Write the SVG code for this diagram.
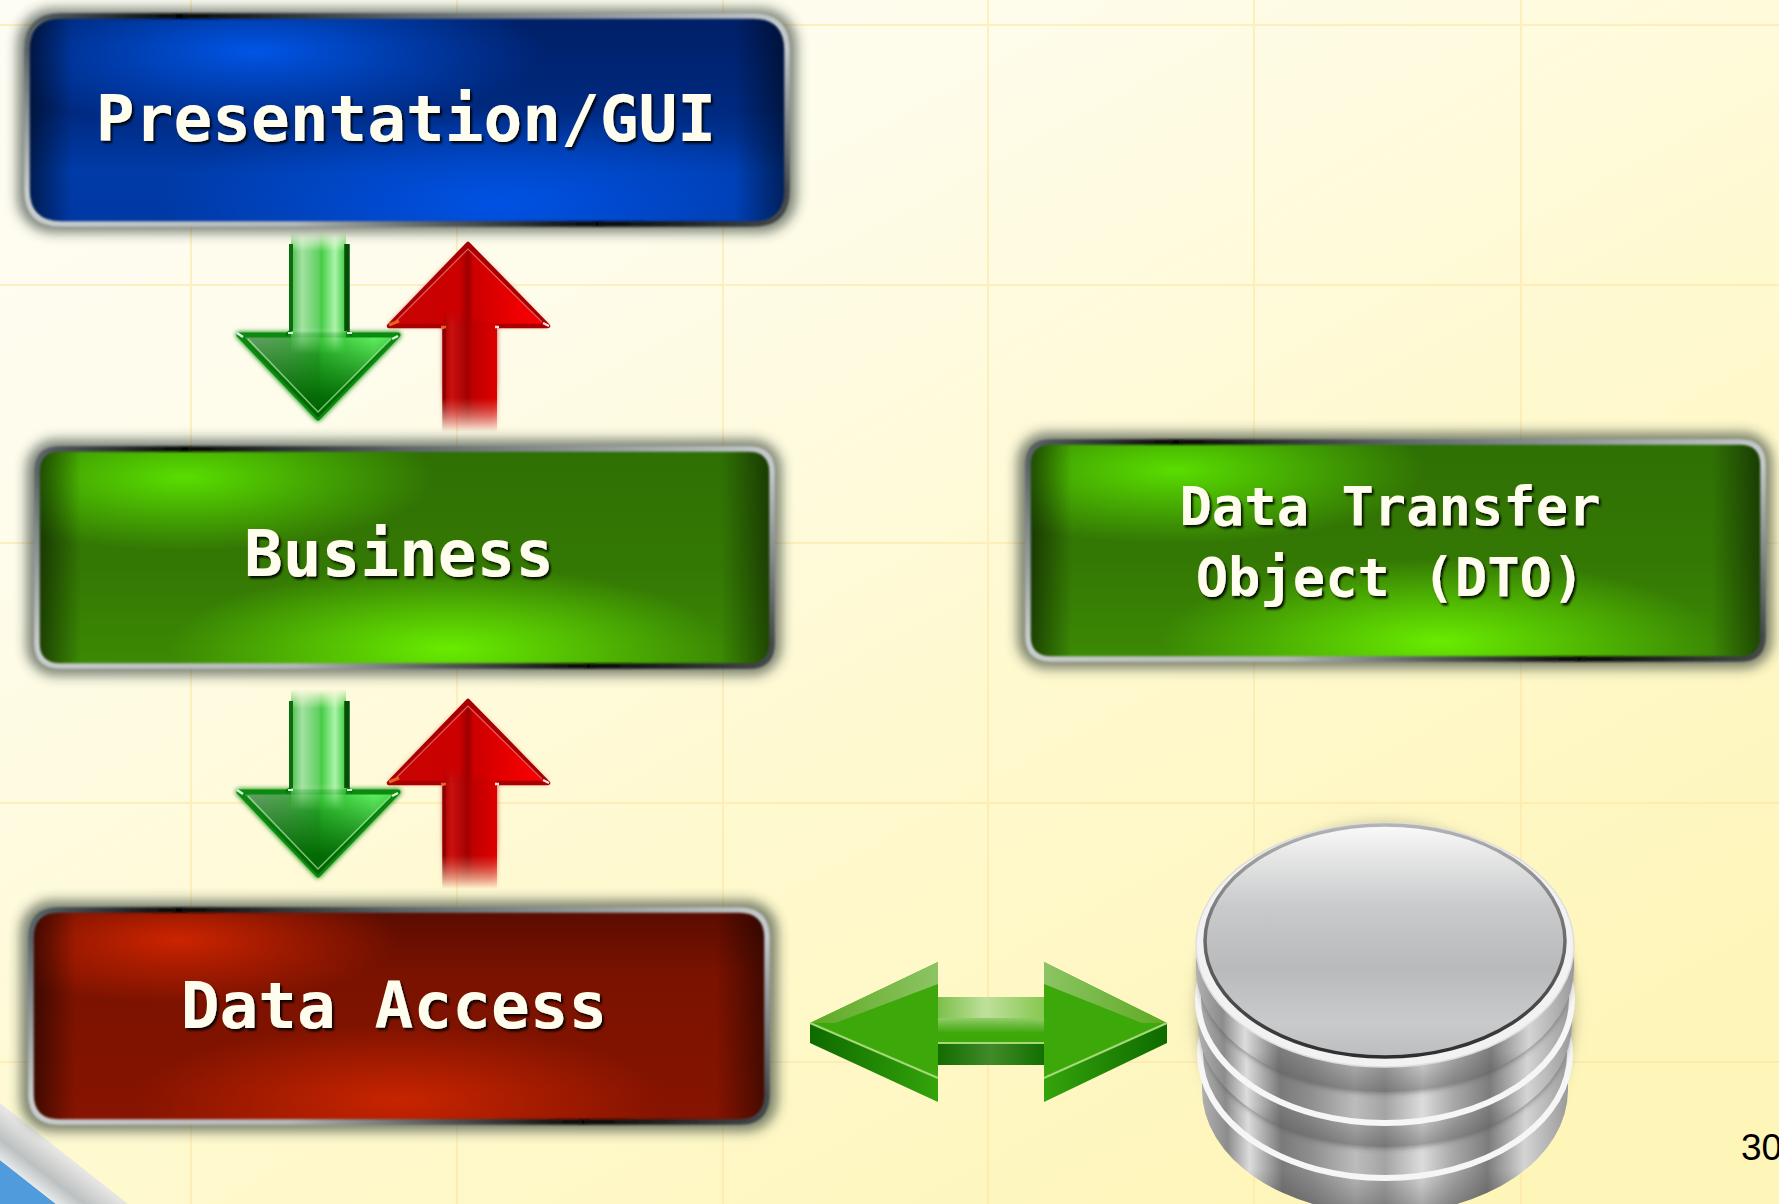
<svg xmlns="http://www.w3.org/2000/svg" width="1779" height="1204" viewBox="0 0 1779 1204">
<style>
.grid{stroke:#fde6a4;stroke-width:2;stroke-opacity:.6;fill:none}
.shadow{fill:#2e3a30;fill-opacity:.6;filter:url(#soft)}
.rim{filter:url(#rimblur);fill:none;stroke-width:5.5}
.rimT{stroke:url(#rimTop)}
.rimB{stroke:url(#rimBottom)}
.rimL{stroke:url(#rimLeft)}
.rimR{stroke:url(#rimRight)}
.lab{font-family:"DejaVu Sans Mono","Liberation Mono",monospace;font-weight:700;fill:#fffdee;text-anchor:middle;filter:url(#txt)}
.lg{font-size:64.4px}
.md{font-size:53.8px}
.vig{fill:url(#vignette)}
</style>
<defs>
<linearGradient id="bg" x1="0" y1="0" x2=".8" y2="1">
<stop offset="0" stop-color="#fefdf4"/><stop offset=".3" stop-color="#fefcea"/><stop offset=".62" stop-color="#fff9cf"/><stop offset="1" stop-color="#fef5b8"/>
</linearGradient>
<filter id="soft" x="-10%" y="-20%" width="120%" height="140%"><feGaussianBlur stdDeviation="6"/></filter>
<filter id="soft2" x="-20%" y="-20%" width="140%" height="140%"><feGaussianBlur stdDeviation="2.5"/></filter>
<filter id="rimblur" x="-5%" y="-5%" width="110%" height="110%" filterUnits="userSpaceOnUse"><feGaussianBlur stdDeviation=".8"/></filter>
<filter id="txt" x="-5%" y="-10%" width="110%" height="125%"><feDropShadow dx="2" dy="2.5" stdDeviation="1" flood-color="#000" flood-opacity=".9"/></filter>
<linearGradient id="rimTop" x1="0" y1="0" x2="1" y2="0">
<stop offset="0" stop-color="#5a6468"/><stop offset=".2" stop-color="#050505"/><stop offset=".5" stop-color="#5d666a"/><stop offset=".85" stop-color="#a6adb0"/><stop offset="1" stop-color="#c4c9cb"/>
</linearGradient>
<linearGradient id="rimBottom" x1="0" y1="0" x2="1" y2="0">
<stop offset="0" stop-color="#c8cccd"/><stop offset=".35" stop-color="#b4b8b9"/><stop offset=".55" stop-color="#55595b"/><stop offset=".75" stop-color="#060606"/><stop offset="1" stop-color="#44484a"/>
</linearGradient>
<linearGradient id="rimLeft" x1="0" y1="0" x2="0" y2="1"><stop offset="0" stop-color="#5a6468"/><stop offset="1" stop-color="#c8cccd"/></linearGradient>
<linearGradient id="rimRight" x1="0" y1="0" x2="0" y2="1"><stop offset="0" stop-color="#c4c9cb"/><stop offset="1" stop-color="#44484a"/></linearGradient>
<linearGradient id="vignette" x1="0" y1="0" x2="1" y2="0">
<stop offset="0" stop-color="#000" stop-opacity=".55"/><stop offset=".06" stop-color="#000" stop-opacity="0"/><stop offset=".93" stop-color="#000" stop-opacity="0"/><stop offset="1" stop-color="#000" stop-opacity=".5"/>
</linearGradient>
<linearGradient id="bBase" x1="0" y1="0" x2="0" y2="1"><stop offset="0" stop-color="#001f66"/><stop offset=".45" stop-color="#00297f"/><stop offset=".75" stop-color="#003ba8"/><stop offset="1" stop-color="#0038a4"/></linearGradient>
<radialGradient id="bTop" cx=".3" cy=".17" r=".38"><stop offset="0" stop-color="#0055e6"/><stop offset="1" stop-color="#0055e6" stop-opacity="0"/></radialGradient>
<radialGradient id="bBot" cx=".62" cy=".9" r=".45"><stop offset="0" stop-color="#0052e4"/><stop offset="1" stop-color="#0052e4" stop-opacity="0"/></radialGradient>
<linearGradient id="gBase" x1="0" y1="0" x2="0" y2="1"><stop offset="0" stop-color="#2f7004"/><stop offset=".55" stop-color="#347804"/><stop offset="1" stop-color="#3c8a04"/></linearGradient>
<radialGradient id="gTop" cx=".2" cy=".13" r=".34"><stop offset="0" stop-color="#59de00"/><stop offset="1" stop-color="#59de00" stop-opacity="0"/></radialGradient>
<radialGradient id="gBot" cx=".56" cy=".92" r=".38"><stop offset="0" stop-color="#68ec00"/><stop offset="1" stop-color="#68ec00" stop-opacity="0"/></radialGradient>
<linearGradient id="rBase" x1="0" y1="0" x2="0" y2="1"><stop offset="0" stop-color="#5a0c00"/><stop offset=".3" stop-color="#7a1200"/><stop offset="1" stop-color="#861400"/></linearGradient>
<radialGradient id="rTop" cx=".2" cy=".14" r=".3"><stop offset="0" stop-color="#cc2400"/><stop offset="1" stop-color="#cc2400" stop-opacity="0"/></radialGradient>
<radialGradient id="rBot" cx=".5" cy=".9" r=".36"><stop offset="0" stop-color="#c82400"/><stop offset="1" stop-color="#c82400" stop-opacity="0"/></radialGradient>
<linearGradient id="fadeGreen" x1="0" y1="0" x2="0" y2="1"><stop offset="0" stop-color="#000"/><stop offset=".16" stop-color="#fff"/><stop offset=".78" stop-color="#fff"/><stop offset="1" stop-color="#000"/></linearGradient>
<linearGradient id="fadeRed" x1="0" y1="0" x2="0" y2="1"><stop offset="0" stop-color="#000"/><stop offset=".14" stop-color="#fff"/><stop offset=".72" stop-color="#fff"/><stop offset="1" stop-color="#000"/></linearGradient>
<mask id="maskGreen" maskContentUnits="objectBoundingBox" x="-.2" y="0" width="1.4" height="1"><rect x="-.2" y="0" width="1.4" height="1" fill="url(#fadeGreen)"/></mask>
<mask id="maskRed" maskContentUnits="objectBoundingBox" x="-.3" y="0" width="1.6" height="1"><rect x="-.3" y="0" width="1.6" height="1" fill="url(#fadeRed)"/></mask>
<linearGradient id="gS" x1="0" y1="0" x2="1" y2="0"><stop offset="0" stop-color="#49bd49"/><stop offset=".2" stop-color="#a2e2a2"/><stop offset=".5" stop-color="#62d062"/><stop offset=".55" stop-color="#45cc45"/><stop offset=".8" stop-color="#acf4ac"/><stop offset="1" stop-color="#38c838"/></linearGradient>
<linearGradient id="gH" x1="0" y1="0" x2="1" y2="0"><stop offset="0" stop-color="#6f9a6f"/><stop offset=".3" stop-color="#4ea84e"/><stop offset=".5" stop-color="#2fb02f"/><stop offset=".52" stop-color="#33c433"/><stop offset=".85" stop-color="#62f262"/><stop offset="1" stop-color="#48dc48"/></linearGradient>
<linearGradient id="gHV" x1="0" y1="0" x2="0" y2="1"><stop offset="0" stop-color="#006000" stop-opacity="0"/><stop offset=".75" stop-color="#006400" stop-opacity=".9"/><stop offset="1" stop-color="#006000"/></linearGradient>
<linearGradient id="rH" x1="0" y1="0" x2="1" y2="0"><stop offset="0" stop-color="#c80404"/><stop offset=".44" stop-color="#cc0000"/><stop offset=".5" stop-color="#9c0000"/><stop offset=".53" stop-color="#cc0000"/><stop offset=".78" stop-color="#ea0000"/><stop offset="1" stop-color="#ff0008"/></linearGradient>
<linearGradient id="rS" x1="0" y1="0" x2="1" y2="0"><stop offset="0" stop-color="#a80404"/><stop offset=".14" stop-color="#cc1010"/><stop offset=".45" stop-color="#a20000"/><stop offset=".55" stop-color="#c00000"/><stop offset="1" stop-color="#de0000"/></linearGradient>
<g id="pair">
<polygon points="239,335 398,335 318,418" fill="#0a8a0e" fill-opacity=".55" stroke="#0a8a0e" stroke-width="6" stroke-linejoin="round" filter="url(#soft2)"/>
<polygon points="239,335 398,335 318,418" fill="url(#gH)" stroke="#0b8a10" stroke-width="5" stroke-linejoin="round"/>
<polygon points="239,335 398,335 318,418" fill="url(#gHV)"/>
<path d="M248 339L318 412L391 339" fill="none" stroke="#a8eea8" stroke-opacity=".7" stroke-width="1.5"/>
<path d="M237 333l6 4M398 336l-6 3" stroke="#d8f6d8" stroke-width="2.5"/>
<g mask="url(#maskGreen)">
<rect x="291" y="232" width="55" height="122" fill="url(#gS)"/>
</g>
<path d="M291 244V331" stroke="#0a6e0e" stroke-width="4" fill="none"/>
<path d="M347 244V331" stroke="#044f07" stroke-width="5.5" fill="none"/>
<path d="M291 331l-5 4M347 331l5 4" stroke="#0a6e0e" stroke-width="3"/>
<path d="M288 333h5M347 333h5" stroke="#d8f6d8" stroke-width="2"/>
<g filter="url(#soft2)" mask="url(#maskRed)"><polygon points="468,243 548,326 497,326 497,432 443,432 443,326 388,326" fill="#b00000" fill-opacity=".7"/></g>
<polygon points="468,244 548,326 389,326" fill="url(#rH)" stroke="#a80000" stroke-width="4.5" stroke-linejoin="round"/>
<path d="M395 322L468 249L542 322" fill="none" stroke="#ff9a9a" stroke-opacity=".6" stroke-width="1.2"/>
<g mask="url(#maskRed)">
<rect x="444" y="310" width="53" height="122" fill="url(#rS)"/>
<path d="M444 329V432" stroke="#8c0000" stroke-width="3.5" fill="none"/>
</g>
<path d="M389 325l10-4" stroke="#e8601c" stroke-width="3"/>
<path d="M441 327h5" stroke="#e8601c" stroke-width="2.5"/>
<path d="M543 323l6 3M495 327h4" stroke="#ffe0e0" stroke-width="2.5"/>
</g>
<linearGradient id="metal" x1="0" y1="0" x2="1" y2="0">
<stop offset="0" stop-color="#b0b0b0"/><stop offset=".07" stop-color="#8c8c8c"/><stop offset=".13" stop-color="#dcdcdc"/><stop offset=".22" stop-color="#7a7a7a"/><stop offset=".3" stop-color="#8e8e8e"/><stop offset=".42" stop-color="#bcbcbc"/><stop offset=".5" stop-color="#a4a4a4"/><stop offset=".6" stop-color="#dcdcdc"/><stop offset=".68" stop-color="#aaaaaa"/><stop offset=".78" stop-color="#7c7c7c"/><stop offset=".88" stop-color="#d4d4d4"/><stop offset="1" stop-color="#9a9a9a"/>
</linearGradient>
<linearGradient id="metalV" x1="0" y1="0" x2="0" y2="1">
<stop offset=".72" stop-color="#333" stop-opacity="0"/><stop offset="1" stop-color="#333" stop-opacity=".4"/>
</linearGradient>
<linearGradient id="face" x1="0" y1="0" x2="0" y2="1">
<stop offset="0" stop-color="#fafafa"/><stop offset=".12" stop-color="#e8e8e8"/><stop offset=".35" stop-color="#c8cacc"/><stop offset=".62" stop-color="#b8babb"/><stop offset=".85" stop-color="#c8cacc"/><stop offset="1" stop-color="#bcbec0"/>
</linearGradient>
<linearGradient id="faceRim" x1="0" y1="0" x2="0" y2="1"><stop offset="0" stop-color="#b4b4b4"/><stop offset=".4" stop-color="#777"/><stop offset="1" stop-color="#2e2e2e"/></linearGradient>
<linearGradient id="dShaftT" x1="0" y1="0" x2="1" y2="0"><stop offset="0" stop-color="#7cc048"/><stop offset=".45" stop-color="#bfe09c"/><stop offset="1" stop-color="#86c850"/></linearGradient>
<linearGradient id="dGlow" x1="0" y1="0" x2="0" y2="1"><stop offset="0" stop-color="#bfe09c" stop-opacity=".65"/><stop offset="1" stop-color="#bfe09c" stop-opacity="0"/></linearGradient>
<linearGradient id="dShaftB" x1="0" y1="0" x2="1" y2="0"><stop offset="0" stop-color="#126c00"/><stop offset=".5" stop-color="#428a2a"/><stop offset="1" stop-color="#127000"/></linearGradient>
<linearGradient id="dSideL" x1="0" y1="0" x2="1" y2="0"><stop offset="0" stop-color="#0e6a00"/><stop offset="1" stop-color="#34a40a"/></linearGradient>
<linearGradient id="dSideR" x1="0" y1="0" x2="1" y2="0"><stop offset="0" stop-color="#34a40a"/><stop offset="1" stop-color="#0e6a00"/></linearGradient>
<linearGradient id="dBevL" x1="0" y1="0" x2="1" y2="0"><stop offset="0" stop-color="#5eaa22"/><stop offset="1" stop-color="#8cc464"/></linearGradient>
<linearGradient id="dBevR" x1="0" y1="0" x2="1" y2="0"><stop offset="0" stop-color="#8cc464"/><stop offset="1" stop-color="#5eaa22"/></linearGradient>
<linearGradient id="cornerBand" gradientUnits="userSpaceOnUse" x1="26" y1="1184" x2="66" y2="1132"><stop offset="0" stop-color="#eef0f0"/><stop offset=".3" stop-color="#bcc0c0"/><stop offset=".65" stop-color="#e2e2e0"/><stop offset="1" stop-color="#fdfdf8"/></linearGradient>
</defs>

<g id="background">
<rect width="1779" height="1204" fill="url(#bg)"/>
<path class="grid" d="M191 0V1204M457 0V1204M723 0V1204M988 0V1204M1254 0V1204M1521 0V1204M0 25H1779M0 285H1779M0 543H1779M0 803H1779M0 1062H1779"/>
</g>

<g id="corner">
<polygon points="0,1160 56,1204 0,1204" fill="#4f9bdc"/>
<polygon points="0,1103 128,1204 56,1204 0,1160" fill="url(#cornerBand)"/>
</g>

<g id="presentation">
<rect class="shadow" x="17" y="8" width="780" height="225" rx="36"/>
<rect x="27" y="16" width="760" height="208" rx="34" fill="url(#bBase)"/>
<rect x="27" y="16" width="760" height="208" rx="34" fill="url(#bTop)"/>
<rect x="27" y="16" width="760" height="208" rx="34" fill="url(#bBot)"/>
<rect class="vig" x="27" y="16" width="760" height="208" rx="34"/>
<g class="rim">
<path class="rimT" d="M27 50Q27 16 61 16H753Q787 16 787 50"/>
<path class="rimB" d="M27 190Q27 224 61 224H753Q787 224 787 190"/>
<path class="rimL" d="M27 50L27.01 190"/>
<path class="rimR" d="M787 50L787.01 190"/>
</g>
<text class="lab lg" x="406" y="141">Presentation/GUI</text>
</g>

<g id="business">
<rect class="shadow" x="26" y="439" width="756" height="237" rx="30"/>
<rect x="37" y="449" width="735" height="217" rx="24" fill="url(#gBase)"/>
<rect x="37" y="449" width="735" height="217" rx="24" fill="url(#gTop)"/>
<rect x="37" y="449" width="735" height="217" rx="24" fill="url(#gBot)"/>
<rect class="vig" x="37" y="449" width="735" height="217" rx="24"/>
<g class="rim">
<path class="rimT" d="M37 472Q37 449 60 449H749Q772 449 772 472"/>
<path class="rimB" d="M37 643Q37 666 60 666H749Q772 666 772 643"/>
<path class="rimL" d="M37 472L37.01 643"/>
<path class="rimR" d="M772 472L772.01 643"/>
</g>
<text class="lab lg" x="399" y="576">Business</text>
</g>

<g id="dto">
<rect class="shadow" x="1017" y="432" width="756" height="237" rx="30"/>
<rect x="1028" y="442" width="735" height="217" rx="24" fill="url(#gBase)"/>
<rect x="1028" y="442" width="735" height="217" rx="24" fill="url(#gTop)"/>
<rect x="1028" y="442" width="735" height="217" rx="24" fill="url(#gBot)"/>
<rect class="vig" x="1028" y="442" width="735" height="217" rx="24"/>
<g class="rim">
<path class="rimT" d="M1028 465Q1028 442 1051 442H1740Q1763 442 1763 465"/>
<path class="rimB" d="M1028 636Q1028 659 1051 659H1740Q1763 659 1763 636"/>
<path class="rimL" d="M1028 465L1028.01 636"/>
<path class="rimR" d="M1763 465L1763.01 636"/>
</g>
<text class="lab md" x="1390" y="525">Data Transfer</text>
<text class="lab md" x="1390" y="596">Object (DTO)</text>
</g>

<g id="data-access">
<rect class="shadow" x="20" y="900" width="758" height="232" rx="32"/>
<rect x="31" y="910" width="736" height="212" rx="28" fill="url(#rBase)"/>
<rect x="31" y="910" width="736" height="212" rx="28" fill="url(#rTop)"/>
<rect x="31" y="910" width="736" height="212" rx="28" fill="url(#rBot)"/>
<rect class="vig" x="31" y="910" width="736" height="212" rx="28"/>
<g class="rim">
<path class="rimT" d="M31 938Q31 910 59 910H739Q767 910 767 938"/>
<path class="rimB" d="M31 1094Q31 1122 59 1122H739Q767 1122 767 1094"/>
<path class="rimL" d="M31 938L31.01 1094"/>
<path class="rimR" d="M767 938L767.01 1094"/>
</g>
<text class="lab lg" x="394" y="1028">Data Access</text>
</g>

<g id="database">
<ellipse cx="1385" cy="1012" rx="192" ry="192" fill="#8a8a70" fill-opacity=".35" filter="url(#soft)"/>
<g id="disc3">
<path d="M1202 1054V1090A183 124 0 0 0 1568 1090V1054Z" fill="url(#metal)"/>
<path d="M1202 1054V1090A183 124 0 0 0 1568 1090V1054Z" fill="url(#metalV)"/>
<ellipse cx="1385" cy="1054" rx="185" ry="124" fill="url(#metal)" stroke="#f6f6f6" stroke-width="6"/>
</g>
<ellipse cx="1385" cy="1027" rx="186" ry="122" fill="#444" fill-opacity=".45" filter="url(#soft2)"/>
<g id="disc2">
<path d="M1198 999V1023A187 124 0 0 0 1572 1023V999Z" fill="url(#metal)"/>
<path d="M1198 999V1023A187 124 0 0 0 1572 1023V999Z" fill="url(#metalV)"/>
<ellipse cx="1385" cy="999" rx="187" ry="124" fill="url(#metal)" stroke="#f6f6f6" stroke-width="6"/>
</g>
<ellipse cx="1385" cy="972" rx="188" ry="122" fill="#444" fill-opacity=".45" filter="url(#soft2)"/>
<g id="disc1">
<path d="M1196 945V968A189 124 0 0 0 1574 968V945Z" fill="url(#metal)"/>
<path d="M1196 945V968A189 124 0 0 0 1574 968V945Z" fill="url(#metalV)"/>
<ellipse cx="1385" cy="945" rx="189" ry="122" fill="#f2f2f2" stroke="#dedede" stroke-width="1.5"/>
<ellipse cx="1385" cy="941" rx="180" ry="116" fill="url(#face)" stroke="url(#faceRim)" stroke-width="3.5"/>
</g>
</g>

<g id="connectors">
<use href="#pair"/>
<use href="#pair" transform="translate(0,457)"/>
<g id="double-arrow">
<polygon points="810,1023 810,1043 938,1102 938,1078" fill="url(#dSideL)"/>
<polygon points="1167,1023 1167,1043 1044,1102 1044,1078" fill="url(#dSideR)"/>
<rect x="938" y="1043" width="106" height="22" fill="url(#dShaftB)"/>
<polygon points="810,1023 938,962 938,997 1044,997 1044,962 1167,1023 1044,1078 1044,1043 938,1043 938,1078" fill="#3da80a"/>
<polygon points="810,1023 938,962 938,984 835,1023" fill="url(#dBevL)"/>
<polygon points="1167,1023 1044,962 1044,984 1142,1023" fill="url(#dBevR)"/>
<rect x="938" y="997" width="106" height="21" fill="url(#dShaftT)"/>
<rect x="938" y="1018" width="106" height="15" fill="url(#dGlow)"/>
<path d="M810 1023L938 1078M1167 1023L1044 1078M938 1043H1044" stroke="#a6d878" stroke-width="2" fill="none"/>
</g>
</g>

<text id="page-number" x="1741" y="1160" font-family="'Liberation Sans',Arial,sans-serif" font-size="37" fill="#000">30</text>
</svg>
